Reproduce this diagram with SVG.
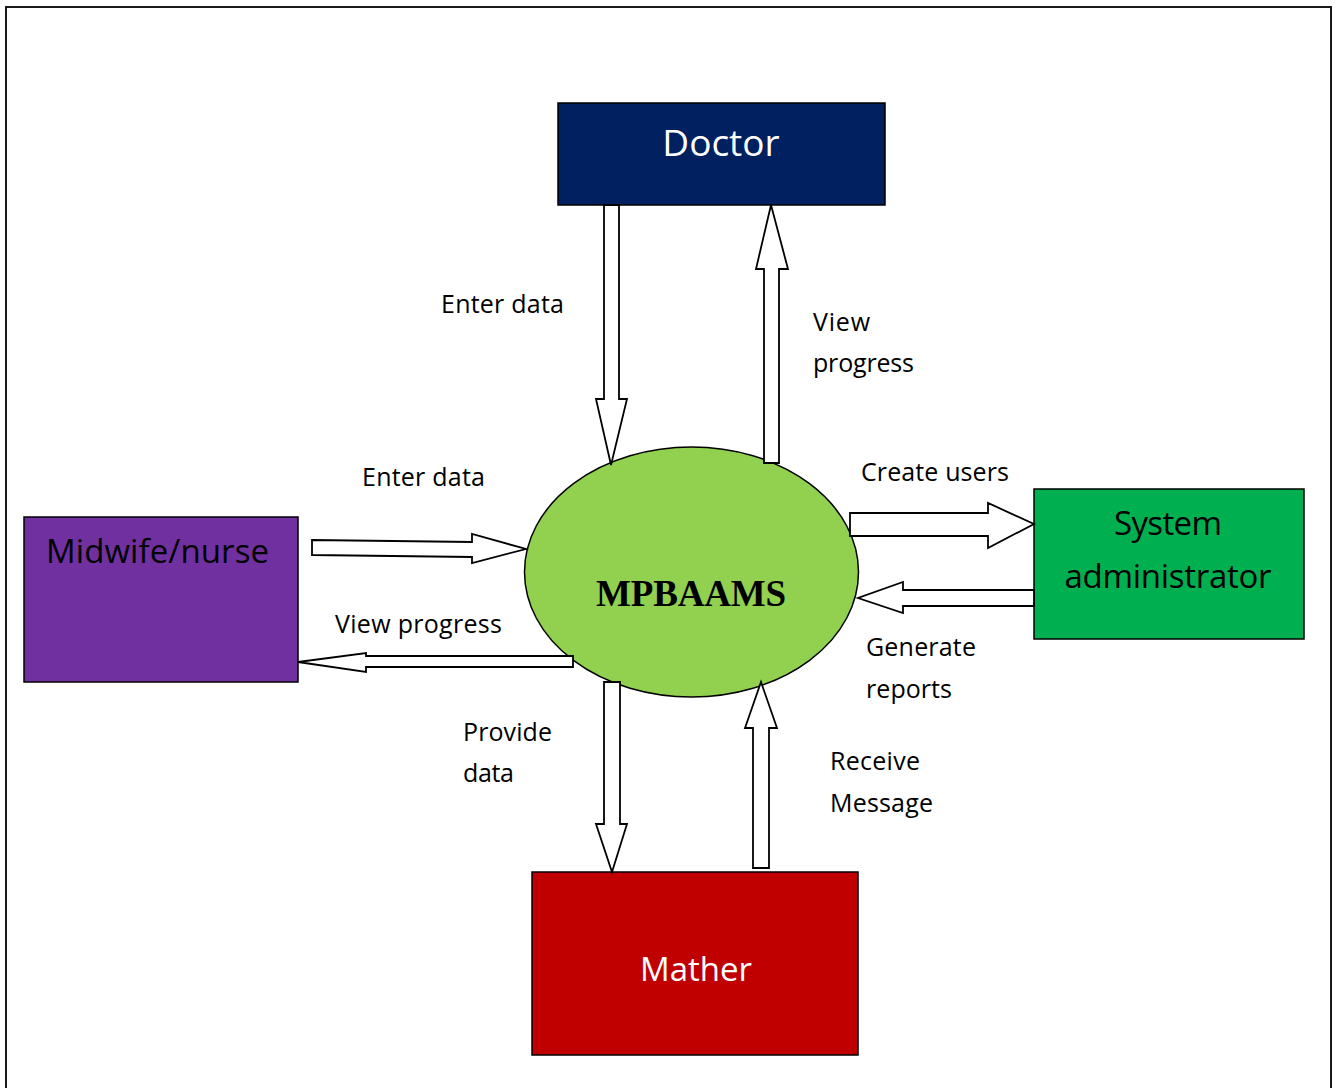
<svg xmlns="http://www.w3.org/2000/svg" width="1338" height="1088" viewBox="0 0 1338 1088">
  <style>
    .frame { fill: #ffffff; stroke: #1a1a1a; stroke-width: 2; }
    .box { stroke: #000000; stroke-width: 1.5; }
    .node-text { font-family: "Open Sans", "Noto Sans", "Liberation Sans", sans-serif; font-size: 33px; }
    .node-title { font-size: 37px; }
    .label { font-family: "Open Sans", "Noto Sans", "Liberation Sans", sans-serif; font-size: 25px; fill: #000000; }
    .flow { fill: #ffffff; stroke: #000000; stroke-width: 1.8; stroke-linejoin: miter; }
  </style>

  <!-- page frame -->
  <rect class="frame" x="6" y="7" width="1325" height="1100"/>

  <!-- central process -->
  <g id="mpbaams">
    <ellipse cx="691.5" cy="572" rx="167" ry="125" fill="#92D050" stroke="#000000" stroke-width="1.5"/>
    <text x="691" y="606" text-anchor="middle" font-family="'Liberation Serif', 'Times New Roman', serif" font-weight="bold" font-size="37" textLength="190" fill="#000000">MPBAAMS</text>
  </g>

  <g id="doctor">
    <rect class="box" x="558" y="103" width="327" height="102" fill="#002060"/>
    <text class="node-text node-title" x="721" y="156" text-anchor="middle" fill="#ffffff">Doctor</text>
  </g>

  <g id="midwife-nurse">
    <rect class="box" x="24" y="517" width="274" height="165" fill="#7030A0"/>
    <text class="node-text" x="46" y="563" textLength="223" fill="#000000">Midwife/nurse</text>
  </g>

  <g id="system-administrator">
    <rect class="box" x="1034" y="489" width="270" height="150" fill="#00B050"/>
    <text class="node-text" x="1168" y="535" text-anchor="middle" textLength="108" fill="#000000">System</text>
    <text class="node-text" x="1168" y="588" text-anchor="middle" textLength="207" fill="#000000">administrator</text>
  </g>

  <g id="mather">
    <rect class="box" x="532" y="872" width="326" height="183" fill="#C00000"/>
    <text class="node-text" x="696" y="981" text-anchor="middle" textLength="112" fill="#ffffff">Mather</text>
  </g>

  <!-- block-arrow data flows -->
  <g id="connectors">
    <!-- Doctor -> system -->
    <polygon class="flow" points="604,205 619,205 619,399 627,399 611,465 596,399 604,399"/>
    <!-- system -> Doctor -->
    <polygon class="flow" points="764,463 779,463 779,269 788,269 771,205 756,269 764,269"/>
    <!-- Midwife/nurse -> system -->
    <polygon class="flow" points="312,540 472,542 472,534 526,549 472,563 472,557 312,555"/>
    <!-- system -> Midwife/nurse -->
    <polygon class="flow" points="573,656 366,656 366,653 298,662 366,672 366,667 573,667"/>
    <!-- system -> System administrator -->
    <polygon class="flow" points="850,513 988,513 988,503 1034,524 988,548 988,536 850,536"/>
    <!-- System administrator -> system -->
    <polygon class="flow" points="1034,590 903,590 903,582 858,598 903,613 903,606 1034,606"/>
    <!-- system -> Mather -->
    <polygon class="flow" points="604,682 620,682 620,824 627,824 612,872 596,824 604,824"/>
    <!-- Mather -> system -->
    <polygon class="flow" points="753,868 769,868 769,728 777,728 761,682 745,728 753,728"/>
  </g>

  <!-- flow labels -->
  <g id="labels">
    <text class="label" x="441" y="313" textLength="123">Enter data</text>
    <text class="label" x="813" y="331" textLength="57">View</text>
    <text class="label" x="813" y="372" textLength="101">progress</text>
    <text class="label" x="362" y="486" textLength="123">Enter data</text>
    <text class="label" x="861" y="481" textLength="148">Create users</text>
    <text class="label" x="335" y="633" textLength="167">View progress</text>
    <text class="label" x="866" y="656" textLength="110">Generate</text>
    <text class="label" x="866" y="698" textLength="86">reports</text>
    <text class="label" x="463" y="741" textLength="89">Provide</text>
    <text class="label" x="463" y="782" textLength="51">data</text>
    <text class="label" x="830" y="770" textLength="90">Receive</text>
    <text class="label" x="830" y="812" textLength="103">Message</text>
  </g>
</svg>
